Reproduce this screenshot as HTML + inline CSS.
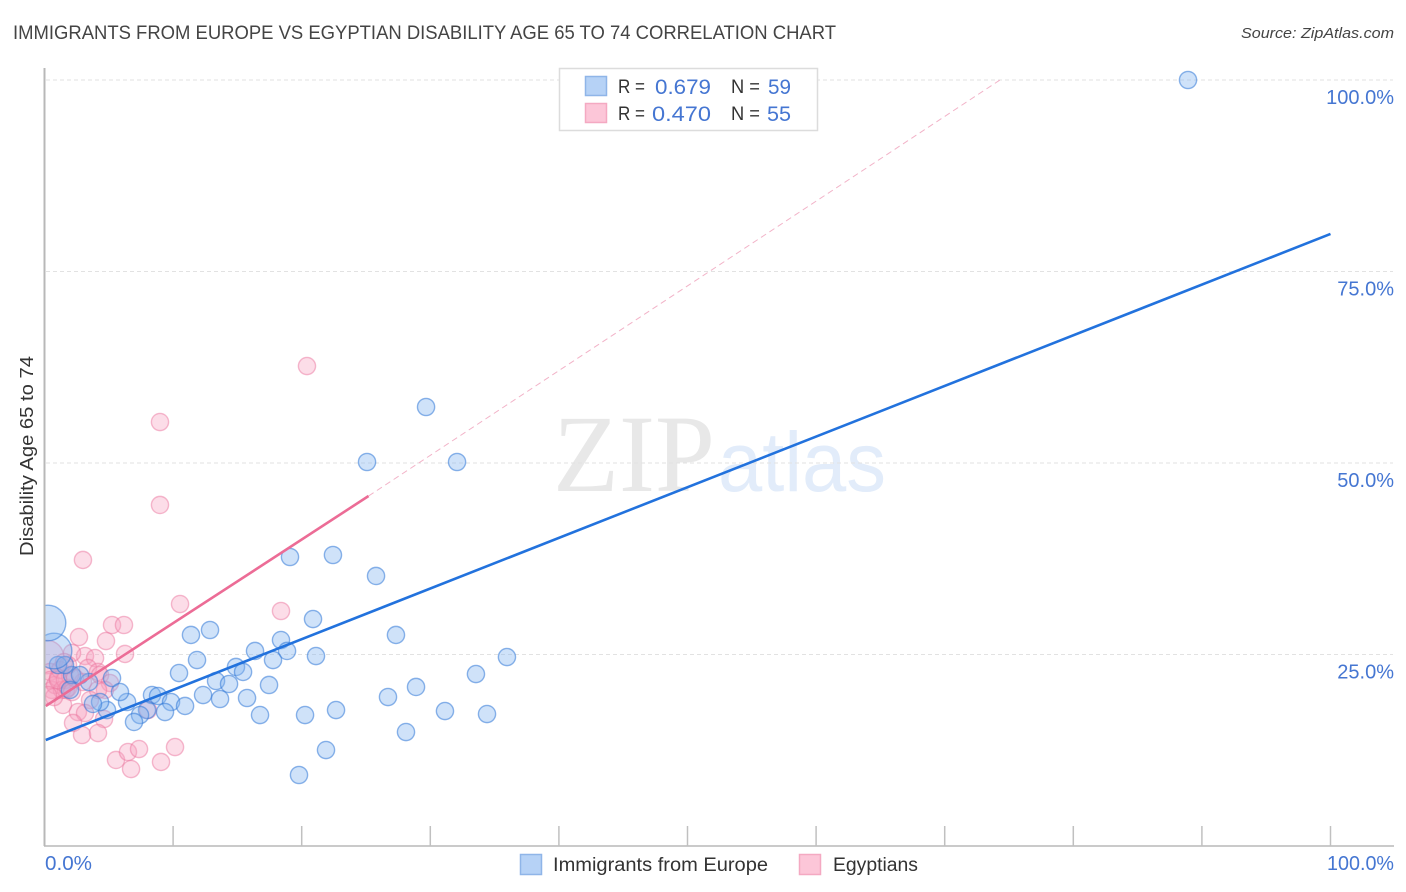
<!DOCTYPE html>
<html lang="en">
<head>
<meta charset="utf-8">
<title>Immigrants from Europe vs Egyptian Disability Age 65 to 74 Correlation Chart</title>
<style>
  html, body { margin: 0; padding: 0; background: #fff; }
  svg { display: block; font-family: "Liberation Sans", sans-serif; }
</style>
</head>
<body>
<svg id="chart" width="1406" height="892" viewBox="0 0 1406 892" xmlns="http://www.w3.org/2000/svg">
  <defs>
    <clipPath id="plot-clip"><rect x="45" y="60" width="1350" height="786"/></clipPath>
  </defs>
  <text x="13" y="39" font-size="19" fill="#444" textLength="823" lengthAdjust="spacingAndGlyphs">IMMIGRANTS FROM EUROPE VS EGYPTIAN DISABILITY AGE 65 TO 74 CORRELATION CHART</text>
  <text x="1241" y="38" font-size="15" font-style="italic" fill="#444" textLength="153" lengthAdjust="spacingAndGlyphs">Source: ZipAtlas.com</text>

  <g>
    <text x="553" y="491" font-family="'Liberation Serif', serif" font-size="110" fill="#e8e8e8" textLength="162" lengthAdjust="spacingAndGlyphs">ZIP</text>
    <text x="718" y="491" font-family="'Liberation Sans', sans-serif" font-size="84" fill="#e2ecfa" textLength="168" lengthAdjust="spacingAndGlyphs">atlas</text>
  </g>

  <g id="grid"></g>
  <g id="pink-points" clip-path="url(#plot-clip)"></g>
  <g id="blue-points" clip-path="url(#plot-clip)"></g>
  <g id="trends"></g>

  <line x1="44.5" y1="68" x2="44.5" y2="846" stroke="#b8b8b8" stroke-width="2"/>
  <line x1="44" y1="846" x2="1394" y2="846" stroke="#b8b8b8" stroke-width="1.5"/>
  <g id="x-ticks"></g>
  <g id="y-labels"></g>
  <text x="45" y="870" font-size="20" fill="#4576d2" textLength="47" lengthAdjust="spacingAndGlyphs">0.0%</text>
  <text x="1327" y="870" font-size="20" fill="#4576d2" textLength="67" lengthAdjust="spacingAndGlyphs">100.0%</text>
  <text transform="translate(33,556) rotate(-90)" font-size="18" fill="#333" textLength="200" lengthAdjust="spacingAndGlyphs">Disability Age 65 to 74</text>

  <g>
    <rect x="559.5" y="68.5" width="258" height="62" fill="#fff" stroke="#dcdcdc" stroke-width="1.5"/>
    <rect x="585.5" y="76.5" width="21" height="19" fill="#b6d2f6" stroke="#8fb5e8" stroke-width="1.5"/>
    <rect x="585.5" y="103.5" width="21" height="19" fill="#fcc6d8" stroke="#f4a9c2" stroke-width="1.5"/>
    <text x="618" y="93" font-size="19" fill="#333" textLength="27" lengthAdjust="spacingAndGlyphs">R =</text>
    <text x="655" y="94" font-size="21" fill="#4576d2" textLength="56" lengthAdjust="spacingAndGlyphs">0.679</text>
    <text x="731" y="93" font-size="19" fill="#333" textLength="29" lengthAdjust="spacingAndGlyphs">N =</text>
    <text x="768" y="94" font-size="21" fill="#4576d2" textLength="23" lengthAdjust="spacingAndGlyphs">59</text>
    <text x="618" y="120" font-size="19" fill="#333" textLength="27" lengthAdjust="spacingAndGlyphs">R =</text>
    <text x="652" y="121" font-size="21" fill="#4576d2" textLength="59" lengthAdjust="spacingAndGlyphs">0.470</text>
    <text x="731" y="120" font-size="19" fill="#333" textLength="29" lengthAdjust="spacingAndGlyphs">N =</text>
    <text x="767" y="121" font-size="21" fill="#4576d2" textLength="24" lengthAdjust="spacingAndGlyphs">55</text>
  </g>

  <g>
    <g>
      <rect x="520.5" y="854.5" width="21" height="20" fill="#b6d2f6" stroke="#8fb5e8" stroke-width="1.5"/>
      <text x="553" y="871" font-size="19" fill="#333" textLength="215" lengthAdjust="spacingAndGlyphs">Immigrants from Europe</text>
    </g>
    <g>
      <rect x="799.5" y="854.5" width="21" height="20" fill="#fcc6d8" stroke="#f4a9c2" stroke-width="1.5"/>
      <text x="833" y="871" font-size="19" fill="#333" textLength="85" lengthAdjust="spacingAndGlyphs">Egyptians</text>
    </g>
  </g>
</svg>
<script>
const blueX = [88.92,29.67,25.08,32.08,19.09,22.43,25.78,20.88,27.33,35.96,33.55,26.71,28.89,31.14,34.41,28.11,11.39,12.87,16.37,18.39,18.86,21.11,17.77,11.86,10.46,14.89,15.44,13.34,14.35,17.46,12.33,13.65,15.75,16.76,20.26,22.67,21.89,19.79,8.36,8.83,9.84,10.93,9.37,7.97,7.43,6.96,6.42,5.25,5.87,4.86,4.32,3.77,3.46,2.14,2.76,1.05,1.59,1.98,0.74,0.27];
const blueY = [100,57.31,50.13,50.13,37.73,37.99,35.25,29.63,27.55,24.67,22.45,19.45,20.76,17.62,17.23,14.88,27.55,28.2,25.46,26.89,25.46,24.8,24.28,24.28,22.58,23.37,22.72,21.54,21.15,21.02,19.71,19.19,19.32,17.1,17.1,17.75,12.53,9.27,19.71,19.58,18.8,18.28,17.49,17.75,17.1,16.19,18.8,21.93,20.1,17.75,18.8,18.54,21.41,22.32,22.32,23.63,23.63,20.37,25.46,29.11];
const blueWeight = [1,1,1,1,1,1,1,1,1,1,1,1,1,1,1,1,1,1,1,1,1,1,1,1,1,1,1,1,1,1,1,1,1,1,1,1,1,1,1,1,1,1,1,1,1,1,1,1,1,1,1,1,1,1,1,1,1,1,4.3,4.3];

const pinkX = [20.41,8.98,8.98,2.99,10.54,18.39,5.25,6.18,2.68,4.78,6.26,3.15,3.93,2.14,3.38,4.16,4.32,5.09,4.7,4.16,2.99,3.54,1.44,2.6,3.15,2.22,4.63,2.92,4.16,5.56,6.49,7.35,6.73,9.06,10.15,8.05,0.19,0.43,0.43,0.58,0.82,1.05,1.21,1.36,1.59,1.67,1.83,1.98,2.14,0.74,0.27,2.37,1.05,1.83,1.52];
const pinkY = [62.66,55.35,44.52,37.34,31.59,30.68,28.85,28.85,27.28,26.76,25.07,24.8,24.54,25.2,23.24,22.72,22.32,21.28,20.37,20.37,21.41,19.06,18.41,17.49,17.36,16.06,16.58,14.49,14.75,11.23,12.27,12.66,10.05,10.97,12.92,17.75,24.67,22.72,21.67,20.37,21.02,21.93,22.98,20.37,21.67,20.37,20.63,22.32,20.1,19.45,19.71,21.93,21.67,23.63,24.02];
const pinkWeight = [1,1,1,1,1,1,1,1,1,1,1,1,1,1,1,1,1,1,1,1,1,1,1,1,1,1,1,1,1,1,1,1,1,1,1,1,3.8,1,1,1,1,1,1,1,1,1,1,1,1,1,1,1,1,1,1];

const xTickValues = [10,20,30,40,50,60,70,80,90,100];
const yTickValues = [25,50,75,100];
const yTickLabels = ["25.0%","50.0%","75.0%","100.0%"];

const blueTrendX = [0.1,100];
const blueTrendY = [13.84,79.9];
const pinkTrendX = [0.1,25.2];
const pinkTrendY = [18.28,45.69];
const pinkExtensionX = [25.2,74.3];
const pinkExtensionY = [45.69,100];

const NS = "http://www.w3.org/2000/svg";
function xScale(v) { return 44.5 + v * 12.86; }
function yScale(v) { return 846 - v * 7.66; }
function make(tag, attrs, parent) {
  const el = document.createElementNS(NS, tag);
  for (const k in attrs) el.setAttribute(k, attrs[k]);
  parent.appendChild(el);
  return el;
}

const gridLayer = document.getElementById("grid");
yTickValues.forEach(function (v) {
  const line = make("line", {x1: 46, x2: 1393, y1: yScale(v), y2: yScale(v), stroke: "#e2e2e2", "stroke-width": 1, "stroke-dasharray": "4 3"}, gridLayer);
  
  
});

const xTickLayer = document.getElementById("x-ticks");
xTickValues.forEach(function (v) {
  const tick = make("line", {x1: xScale(v), x2: xScale(v), y1: 826, y2: 846, stroke: "#c0c0c0", "stroke-width": 1.5}, xTickLayer);
  
  
});

const yLabelLayer = document.getElementById("y-labels");
yTickValues.forEach(function (v, i) {
  const label = make("text", {x: 1394, y: yScale(v) + 24, "text-anchor": "end", "font-size": 20, fill: "#4576d2"}, yLabelLayer);
  label.textContent = yTickLabels[i];
  
  
});

function drawPoints(layerId, xs, ys, weights, fill, stroke, pointName) {
  const layer = document.getElementById(layerId);
  xs.forEach(function (xv, i) {
    const c = make("circle", {cx: xScale(xv), cy: yScale(ys[i]), r: 8.6 * Math.sqrt(weights[i]), fill: fill, stroke: stroke, "stroke-width": 1.4}, layer);
    
    
  });
}
drawPoints("pink-points", pinkX, pinkY, pinkWeight, "rgba(247,160,190,0.36)", "rgba(236,120,160,0.5)", "egyptians-point");
drawPoints("blue-points", blueX, blueY, blueWeight, "rgba(130,180,240,0.38)", "rgba(50,120,215,0.55)", "immigrants-point");

const trendLayer = document.getElementById("trends");
const blueTrend = make("line", {x1: xScale(blueTrendX[0]), y1: yScale(blueTrendY[0]), x2: xScale(blueTrendX[1]), y2: yScale(blueTrendY[1]), stroke: "#2272dd", "stroke-width": 2.6}, trendLayer);


const pinkTrend = make("line", {x1: xScale(pinkTrendX[0]), y1: yScale(pinkTrendY[0]), x2: xScale(pinkTrendX[1]), y2: yScale(pinkTrendY[1]), stroke: "#ec6c96", "stroke-width": 2.6}, trendLayer);


const pinkExtension = make("line", {x1: xScale(pinkExtensionX[0]), y1: yScale(pinkExtensionY[0]), x2: xScale(pinkExtensionX[1]), y2: yScale(pinkExtensionY[1]), stroke: "#f2b3c8", "stroke-width": 1, "stroke-dasharray": "6 4"}, trendLayer);


</script>
</body>
</html>
